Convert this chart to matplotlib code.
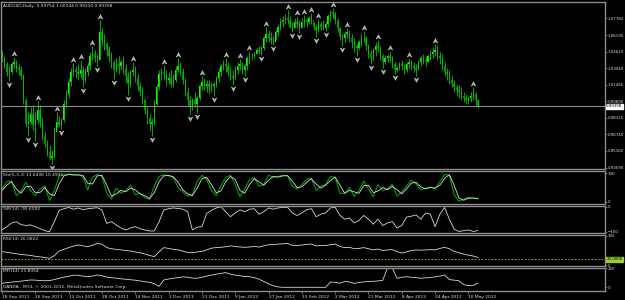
import matplotlib
matplotlib.use("Agg")
import matplotlib.pyplot as plt
from matplotlib.path import Path
from matplotlib.transforms import blended_transform_factory
import numpy as np

# ---------------- data (AUDUSD daily) ----------------
first_open = 1.044
high = [1.048, 1.042, 1.036, 1.032, 1.036, 1.041, 1.038, 1.034, 1.032, 1.025,
        1.002, 0.989, 0.993, 0.995, 0.989, 0.999, 0.995, 0.983, 0.970, 0.962,
        0.957, 0.953, 0.974, 0.989, 0.985, 0.983, 1.000, 1.010, 1.021, 1.031,
        1.035, 1.032, 1.034, 1.038, 1.032, 1.031, 1.036, 1.046, 1.051, 1.048,
        1.044, 1.076, 1.069, 1.063, 1.055, 1.051, 1.046, 1.038, 1.040, 1.042,
        1.038, 1.042, 1.034, 1.027, 1.029, 1.036, 1.032, 1.025, 1.017, 1.012,
        1.002, 0.993, 0.987, 0.983, 1.000, 1.015, 1.029, 1.031, 1.033, 1.029,
        1.027, 1.029, 1.025, 1.032, 1.040, 1.036, 1.031, 1.021, 1.012, 1.004,
        1.002, 1.008, 1.004, 1.015, 1.023, 1.021, 1.019, 1.019, 1.017, 1.017,
        1.023, 1.031, 1.034, 1.038, 1.040, 1.036, 1.032, 1.029, 1.032, 1.036,
        1.039, 1.036, 1.034, 1.042, 1.047, 1.045, 1.046, 1.050, 1.051, 1.051,
        1.061, 1.070, 1.067, 1.065, 1.061, 1.067, 1.072, 1.078, 1.080, 1.082,
        1.086, 1.080, 1.074, 1.078, 1.080, 1.076, 1.078, 1.081, 1.078, 1.080,
        1.083, 1.074, 1.072, 1.077, 1.074, 1.076, 1.074, 1.082, 1.086, 1.088,
        1.084, 1.078, 1.070, 1.063, 1.065, 1.069, 1.067, 1.063, 1.059, 1.053,
        1.057, 1.063, 1.066, 1.061, 1.053, 1.048, 1.050, 1.055, 1.057, 1.051,
        1.044, 1.042, 1.044, 1.047, 1.042, 1.036, 1.032, 1.036, 1.038, 1.034,
        1.036, 1.040, 1.038, 1.036, 1.034, 1.038, 1.042, 1.044, 1.042, 1.044,
        1.048, 1.050, 1.053, 1.052, 1.046, 1.044, 1.036, 1.031, 1.029, 1.023,
        1.019, 1.015, 1.014, 1.012, 1.008, 1.006, 1.004, 1.008, 1.012, 1.008,
        1.00144]
low = [1.036, 1.031, 1.023, 1.018, 1.025, 1.031, 1.027, 1.024, 1.020, 0.996,
       0.974, 0.966, 0.977, 0.972, 0.961, 0.977, 0.974, 0.962, 0.955, 0.947,
       0.943, 0.939, 0.945, 0.974, 0.975, 0.973, 0.979, 0.993, 1.002, 1.013,
       1.023, 1.021, 1.019, 1.021, 1.012, 1.017, 1.023, 1.029, 1.038, 1.036,
       1.032, 1.038, 1.051, 1.048, 1.042, 1.036, 1.031, 1.020, 1.027, 1.025,
       1.029, 1.025, 1.017, 1.005, 1.012, 1.023, 1.017, 1.010, 1.004, 0.996,
       0.987, 0.977, 0.972, 0.966, 0.976, 0.995, 1.010, 1.019, 1.019, 1.013,
       1.015, 1.012, 1.012, 1.017, 1.027, 1.023, 1.015, 1.004, 0.995, 0.986,
       0.991, 0.993, 0.988, 1.000, 1.010, 1.010, 1.008, 1.006, 1.008, 1.004,
       1.012, 1.017, 1.023, 1.029, 1.027, 1.023, 1.019, 1.014, 1.019, 1.025,
       1.029, 1.025, 1.023, 1.029, 1.034, 1.038, 1.040, 1.044, 1.044, 1.043,
       1.048, 1.055, 1.055, 1.053, 1.052, 1.057, 1.061, 1.067, 1.070, 1.072,
       1.072, 1.069, 1.065, 1.069, 1.069, 1.064, 1.069, 1.070, 1.070, 1.072,
       1.072, 1.067, 1.060, 1.065, 1.067, 1.067, 1.066, 1.070, 1.074, 1.078,
       1.072, 1.065, 1.057, 1.051, 1.055, 1.059, 1.055, 1.050, 1.046, 1.042,
       1.048, 1.051, 1.055, 1.048, 1.040, 1.034, 1.038, 1.042, 1.046, 1.038,
       1.031, 1.034, 1.036, 1.036, 1.031, 1.025, 1.027, 1.029, 1.029, 1.025,
       1.027, 1.031, 1.029, 1.027, 1.023, 1.029, 1.032, 1.034, 1.032, 1.036,
       1.038, 1.040, 1.042, 1.038, 1.034, 1.029, 1.023, 1.019, 1.015, 1.012,
       1.008, 1.004, 1.002, 1.000, 0.998, 0.996, 0.996, 0.998, 1.000, 0.995,
       0.99210]
close = [1.040, 1.034, 1.027, 1.027, 1.034, 1.036, 1.031, 1.029, 1.023, 1.000,
         0.977, 0.979, 0.987, 0.976, 0.981, 0.991, 0.979, 0.966, 0.958, 0.951,
         0.945, 0.947, 0.970, 0.979, 0.976, 0.981, 0.996, 1.006, 1.017, 1.027,
         1.029, 1.027, 1.025, 1.029, 1.019, 1.027, 1.032, 1.042, 1.044, 1.040,
         1.038, 1.065, 1.057, 1.053, 1.048, 1.042, 1.036, 1.029, 1.034, 1.032,
         1.036, 1.031, 1.023, 1.015, 1.027, 1.029, 1.021, 1.013, 1.008, 1.000,
         0.991, 0.983, 0.977, 0.979, 0.996, 1.012, 1.025, 1.027, 1.025, 1.019,
         1.021, 1.015, 1.019, 1.029, 1.032, 1.027, 1.019, 1.008, 1.000, 0.993,
         1.000, 0.996, 1.002, 1.013, 1.017, 1.013, 1.015, 1.012, 1.013, 1.015,
         1.021, 1.027, 1.032, 1.034, 1.032, 1.027, 1.023, 1.021, 1.029, 1.032,
         1.034, 1.029, 1.032, 1.040, 1.042, 1.042, 1.044, 1.048, 1.046, 1.050,
         1.059, 1.063, 1.059, 1.057, 1.055, 1.065, 1.070, 1.074, 1.076, 1.078,
         1.076, 1.070, 1.069, 1.074, 1.072, 1.069, 1.074, 1.076, 1.074, 1.078,
         1.076, 1.070, 1.067, 1.072, 1.070, 1.069, 1.072, 1.080, 1.084, 1.082,
         1.076, 1.069, 1.061, 1.059, 1.063, 1.065, 1.059, 1.055, 1.051, 1.050,
         1.055, 1.059, 1.059, 1.051, 1.044, 1.040, 1.048, 1.051, 1.050, 1.042,
         1.036, 1.040, 1.042, 1.040, 1.034, 1.029, 1.031, 1.034, 1.032, 1.029,
         1.034, 1.036, 1.032, 1.031, 1.029, 1.036, 1.040, 1.038, 1.036, 1.042,
         1.044, 1.046, 1.048, 1.042, 1.040, 1.032, 1.027, 1.025, 1.019, 1.015,
         1.012, 1.010, 1.008, 1.004, 1.002, 1.000, 1.002, 1.004, 1.006, 1.000,
         0.99398]

up_fractals = [5, 15, 23, 30, 33, 38, 41, 55, 68, 74, 84, 94, 100, 104, 111, 120,
               124, 127, 130, 133, 139, 145, 152, 158, 163, 171, 182, 198]
down_fractals = [3, 11, 14, 21, 25, 34, 40, 47, 53, 63, 79, 82, 89, 97, 102, 109,
                 114, 122, 125, 132, 136, 143, 149, 155, 160, 165, 174]

price_ticks = [1.07782, 1.06190, 1.04619, 1.03040, 1.01465, 0.99890,
               0.98315, 0.96740, 0.95165, 0.93590]
last_price = 0.99398
header = "AUDUSD,Daily  0.99754 1.00144 0.99210 0.99398"

date_labels = ["18 Sep 2011", "26 Sep 2011", "12 Oct 2011", "28 Oct 2011",
               "14 Nov 2011", "2 Dec 2011", "21 Dec 2011", "9 Jan 2012",
               "27 Jan 2012", "15 Feb 2012", "2 Mar 2012", "21 Mar 2012",
               "8 Apr 2012", "24 Apr 2012", "10 May 2012"]
date_bars = [0, 14, 28, 42, 56, 70, 84, 98, 112, 126, 140, 154, 168, 182, 196]

# indicator readings, one every 2 bars
stoch_main = [45, 70, 72, 22, 38, 68, 40, 22, 45, 55, 5, 40, 88, 95, 96, 92, 95,
              88, 42, 85, 95, 88, 30, 10, 48, 30, 40, 58, 25, 30, 15, 10, 55, 88,
              94, 90, 84, 50, 35, 20, 25, 70, 92, 78, 40, 22, 55, 85, 92, 60, 18,
              45, 76, 85, 55, 60, 92, 85, 88, 92, 90, 55, 45, 60, 78, 82, 40, 55,
              60, 88, 85, 30, 30, 50, 20, 40, 72, 45, 18, 60, 40, 45, 62, 20, 35,
              55, 75, 62, 42, 48, 52, 45, 70, 95, 92, 25, 3, 10, 16, 12, 13.64]
stoch_signal = [40, 58, 70, 45, 30, 52, 55, 32, 33, 50, 28, 22, 62, 90, 95, 94, 93,
                92, 65, 62, 90, 92, 58, 20, 28, 40, 35, 48, 42, 28, 22, 12, 32, 70,
                90, 92, 87, 68, 42, 28, 22, 48, 80, 85, 60, 32, 38, 70, 88, 78, 40,
                30, 60, 80, 70, 58, 75, 88, 86, 90, 91, 72, 50, 52, 68, 80, 62, 48,
                58, 74, 86, 58, 30, 40, 35, 30, 56, 58, 32, 38, 50, 42, 54, 42, 28,
                45, 65, 68, 52, 45, 50, 48, 58, 82, 94, 58, 14, 6, 13, 14, 10.49]
wpr = [-93, -80, -65, -60, -72, -75, -73, -80, -88, -96, -100, -60, -15, -8, -3,
       -10, -5, -12, -8, -6, -4, -13, -67, -60, -73, -85, -93, -85, -80, -88, -93,
       -97, -97, -60, -13, -8, -5, -7, -10, -20, -93, -82, -80, -27, -15, -5, 0,
       -20, -40, -25, -13, -20, -10, -8, -30, -20, -5, -10, -5, -3, -2, -25, -35,
       -25, -12, -8, -40, -30, -25, -5, -2, -35, -50, -45, -65, -55, -35, -50, -70,
       -50, -75, -65, -60, -85, -75, -42, -38, -33, -50, -25, -30, -80, -30, -3,
       -50, -90, -99, -96, -93, -99, -95.66]
rsi = [46, 44, 41, 39, 36, 35, 33, 30, 28, 26, 23, 32, 48, 54, 60, 65, 69, 66, 63,
       68, 74, 72, 60, 56, 54, 52, 50, 48, 45, 42, 38, 33, 29, 45, 60, 57, 54, 52,
       48, 43, 42, 45, 47, 52, 58, 60, 61, 63, 66, 64, 62, 61, 62, 64, 62, 66, 70,
       70, 72, 73, 74, 68, 67, 69, 71, 72, 66, 67, 67, 70, 72, 64, 60, 61, 56, 57,
       60, 56, 52, 55, 50, 52, 53, 46, 41, 45, 50, 52, 51, 52, 53, 52, 57, 61, 56,
       47, 42, 38, 34, 31, 26.08]
mfi = [21, 24, 27, 29, 32, 35, 38, 37, 35, 34, 35, 40, 47, 52, 57, 63, 62, 58, 55,
       58, 64, 60, 53, 50, 47, 44, 42, 39, 37, 33, 29, 26, 18, 5, 38, 43, 47, 50,
       54, 52, 48, 47, 52, 58, 63, 68, 72, 76, 68, 63, 60, 56, 55, 50, 42, 30, 18,
       8, 2, 0, 0, 0, 0, 0, 0, 0, 0, 0, 0, 27, 26, 21, 30, 28, 20, 25, 28, 30, 31,
       33, 36, 100, 100, 47, 52, 55, 52, 50, 47, 49, 51, 54, 58, 64, 40, 37, 34,
       14, 9, 10, 21.84]
level_value = 20.0

# ---------------- layout ----------------
W, H = 625, 300
BG = "black"
FRAME = "#8c8c8c"
TXT = "#dcdcdc"
FS = 3.2
FS_AX = 2.9

fig = plt.figure(figsize=(W / 100, H / 100), dpi=100, facecolor=BG)


def panel(top, bottom, ylim):
    ax = fig.add_axes([1 / W, 1 - bottom / H, 604 / W, (bottom - top) / H])
    ax.set_facecolor(BG)
    for s in ax.spines.values():
        s.set_color(FRAME)
        s.set_linewidth(1.0)
    ax.set_xlim(-0.42, 253.4)
    ax.set_ylim(*ylim)
    ax.yaxis.tick_right()
    ax.tick_params(axis="y", colors=FRAME, labelcolor=TXT, labelsize=FS_AX,
                   length=1.5, width=0.5, pad=0.6)
    ax.tick_params(axis="x", bottom=False, labelbottom=False)
    return ax


def label(ax, text):
    ax.annotate(text, xy=(0, 1), xycoords="axes fraction", xytext=(2, -2),
                textcoords="offset pixels", va="top", ha="left",
                color=TXT, fontsize=FS)


ax = panel(2, 169, (0.9345, 1.0933))
ax_st = panel(171, 203.5, (-5.2, 106.9))
ax_wr = panel(205.5, 233, (-105.2, 4.8))
ax_rsi = panel(235, 265.5, (-1.7, 103.4))
ax_mfi = panel(267.5, 291, (-19.2, 102.6))

# ---------------- main chart ----------------
close = np.array(close)
high = np.array(high)
low = np.array(low)
opens = np.r_[first_open, close[:-1]]
bars = np.arange(len(close))
bull = close >= opens

ax.vlines(bars, low, high, color="#00c800", lw=0.6)
ax.bar(bars[bull], (close - opens)[bull], bottom=opens[bull], width=0.55,
       color="#00ff00", lw=0)
ax.bar(bars[~bull], (opens - close)[~bull], bottom=close[~bull], width=0.55,
       color="#008a00", lw=0)

up_arrow = Path([(0, 4.0), (1.5, 1.0), (0, 1.9), (-1.5, 1.0), (0, 4.0)],
                [Path.MOVETO, Path.LINETO, Path.LINETO, Path.LINETO, Path.CLOSEPOLY])
down_arrow = Path([(0, -4.0), (1.5, -1.0), (0, -1.9), (-1.5, -1.0), (0, -4.0)],
                  [Path.MOVETO, Path.LINETO, Path.LINETO, Path.LINETO, Path.CLOSEPOLY])
ax.plot(up_fractals, high[up_fractals], ls="none", marker=up_arrow, ms=8.5,
        mfc="#a8a8a8", mec="#e8e8e8", mew=0.3)
ax.plot(down_fractals, low[down_fractals], ls="none", marker=down_arrow, ms=8.5,
        mfc="#a8a8a8", mec="#e8e8e8", mew=0.3)

ax.axhline(last_price, color="#8a8a8a", lw=0.8)
ax.set_yticks(price_ticks)
ax.set_yticklabels([f"{p:.5f}" for p in price_ticks])
trans = blended_transform_factory(ax.transAxes, ax.transData)
ax.text(1.002, last_price, f"{last_price:.5f}", transform=trans, va="center",
        ha="left", fontsize=FS_AX, color="black",
        bbox=dict(boxstyle="square,pad=0.12", fc="white", ec="white"))
label(ax, header)

# ---------------- indicators ----------------
ind_bars = np.arange(len(stoch_main)) * 2

ax_st.plot(ind_bars, stoch_main, color="#00a000", lw=0.8)
ax_st.plot(ind_bars, stoch_signal, color="#d8d8d8", lw=0.6)
ax_st.set_yticks([100, 0])
label(ax_st, "Sto(5,3,3) 13.6436 10.4945")

ax_wr.plot(ind_bars, wpr, color="#d8d8d8", lw=0.6)
ax_wr.set_yticks([0, -100])
label(ax_wr, "%R(14) -95.6592")

ax_rsi.plot(ind_bars, rsi, color="#d8d8d8", lw=0.6)
ax_rsi.axhline(level_value, color="#9acd32", lw=0.6, ls=(0, (2, 2)))
ax_rsi.set_yticks([100, 0])
trans = blended_transform_factory(ax_rsi.transAxes, ax_rsi.transData)
ax_rsi.text(1.002, level_value, f"{level_value:.4f}", transform=trans,
            va="center", ha="left", fontsize=FS_AX, color="black",
            bbox=dict(boxstyle="square,pad=0.12", fc="#9acd32", ec="#9acd32"))
label(ax_rsi, "RSI(14) 26.0822")

ax_mfi.plot(ind_bars, mfi, color="#d8d8d8", lw=0.6)
ax_mfi.set_yticks([100, 0])
label(ax_mfi, "MFI(14) 21.8354")
ax_mfi.annotate("OANDA - MT4, \u00a9 2001-2012, MetaQuotes Software Corp.",
                xy=(0, 0), xycoords="axes fraction", xytext=(2, 2),
                textcoords="offset pixels", va="bottom", ha="left",
                color=TXT, fontsize=FS)

ax_mfi.set_xticks(date_bars)
ax_mfi.set_xticklabels(date_labels, ha="left")
ax_mfi.tick_params(axis="x", bottom=True, labelbottom=True, colors=FRAME,
                   labelcolor=TXT, labelsize=FS, length=2, width=0.5, pad=1)

fig.savefig("out.png", dpi=100, facecolor=BG)
